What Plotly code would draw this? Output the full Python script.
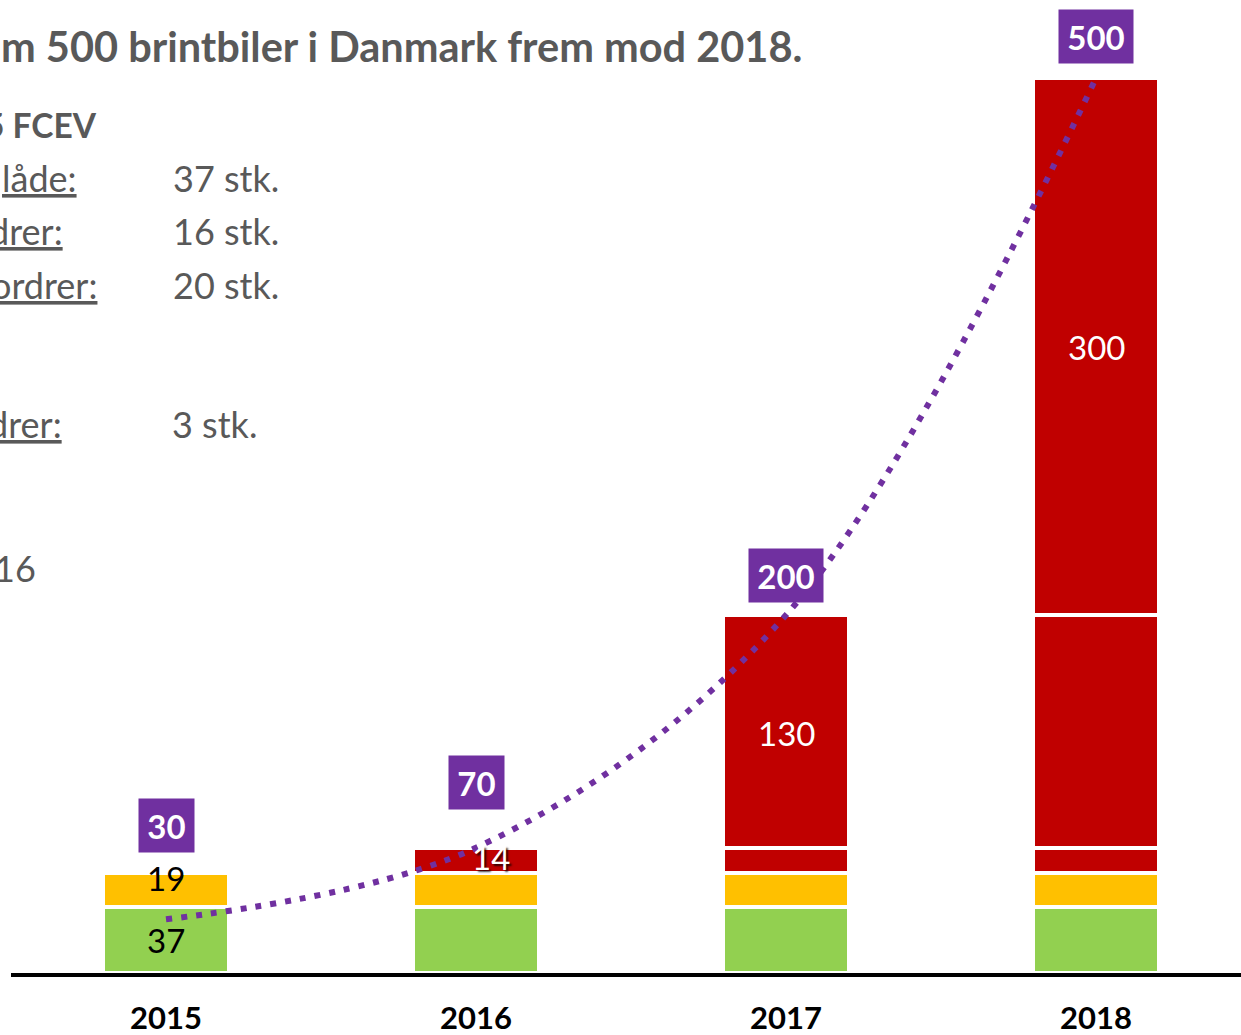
import plotly.graph_objects as go

# ---------------- data ----------------
years = ["2015", "2016", "2017", "2018"]
green_vals = [37, 37, 37, 37]
yellow_vals = [19, 19, 19, 19]
red_small_vals = [None, 14, 14, 14]
red_mid_vals = [None, None, 130, 130]
red_top_vals = [None, None, None, 300]
target_vals = [30, 70, 200, 500]

# segment labels: (year index, segment name, label)
seg_labels = [(0, "green", "37"), (0, "yellow", "19"), (1, "red_small", "14"),
              (2, "red_mid", "130"), (3, "red_top", "300")]

title_text = "m 500 brintbiler i Danmark frem mod 2018."
left_labels = ["5 FCEV", "låde:", "drer:", "ordrer:", "drer:", "16"]
left_values = ["37 stk.", "16 stk.", "20 stk.", "3 stk."]

# ---------------- style / layout ----------------
W, H = 1241, 1035
ML, MR, MT, MB = 11, 0, 0, 62
PX_PER_UNIT = 1.79
plot_w = W - ML - MR
plot_h = H - MT - MB
GREEN, YELLOW, RED, PURPLE, GREY = "#92D050", "#FFC000", "#C00000", "#7030A0", "#595959"
FONT = "Lato"

def px2paper(px, py):
    return (px - ML) / plot_w, (H - MB - py) / plot_h

fig = go.Figure()
series = [("green", green_vals, GREEN), ("yellow", yellow_vals, YELLOW),
          ("red_small", red_small_vals, RED), ("red_mid", red_mid_vals, RED),
          ("red_top", red_top_vals, RED)]
for name, vals, col in series:
    fig.add_trace(go.Bar(x=years, y=vals, name=name,
                         marker=dict(color=col, line=dict(color="white", width=4)),
                         width=0.405, hoverinfo="skip"))

fig.add_trace(go.Scatter(x=years, y=target_vals, mode="lines",
                         line=dict(color=PURPLE, width=6, dash="6px,9px", shape="spline", smoothing=1.0),
                         hoverinfo="skip"))

annotations = []

# segment labels
cum = {}
for i in range(len(years)):
    base = 0
    for name, vals, col in series:
        v = vals[i] or 0
        cum[(i, name)] = (base, base + v)
        base += v
seg_shift = {(0, "green"): (0, 0), (0, "yellow"): (0, 12), (1, "red_small"): (15, 3),
             (2, "red_mid"): (0, -2), (3, "red_top"): (0, 0)}
for i, name, lab in seg_labels:
    lo, hi = cum[(i, name)]
    dark = name in ("green", "yellow")
    xs, ys = seg_shift[(i, name)]
    font = dict(family=FONT, size=33, color="black" if dark else "white")
    if name == "red_small":
        font["shadow"] = "2px 2px 2px rgba(0,0,0,0.75)"
    annotations.append(dict(x=i, y=(lo + hi) / 2, text=lab, showarrow=False, xshift=xs, yshift=ys,
                            font=font, xanchor="center", yanchor="middle"))

# purple target boxes above stacks
totals = [sum((s[1][i] or 0) for s in series) for i in range(len(years))]
box_shift = [47, 65, 40, 42]
for i, t in enumerate(target_vals):
    annotations.append(dict(x=i, y=totals[i], yshift=box_shift[i], text="<b>%d</b>" % t, showarrow=False,
                            bgcolor=PURPLE, font=dict(family=FONT, size=33, color="white"),
                            width=55 if t < 100 else 74, height=53, borderpad=0,
                            xanchor="center", yanchor="middle"))

# title
tx, ty = px2paper(804, 46)
annotations.append(dict(xref="paper", yref="paper", x=tx, y=ty, text="<b>" + title_text + "</b>", showarrow=False,
                        xanchor="right", yanchor="middle", font=dict(family=FONT, size=41.5, color=GREY)))

# left text block
left_pos = [(99, 125), (79, 178), (65, 231), (99, 285), (64, 424), (38, 568)]
for k, (lab, (px, py)) in enumerate(zip(left_labels, left_pos)):
    ax, ay = px2paper(px, py)
    f = dict(family=FONT, size=36, color=GREY)
    txt = lab
    if k == 0:
        txt = "<b>" + lab + "</b>"
        f["size"] = 33.5
    elif k in (1, 2, 3, 4):
        f["lineposition"] = "under"
    annotations.append(dict(xref="paper", yref="paper", x=ax, y=ay, text=txt, showarrow=False,
                            xanchor="right", yanchor="middle", font=f))
val_pos = [(171, 178), (171, 231), (171, 285), (170, 424)]
for lab, (px, py) in zip(left_values, val_pos):
    ax, ay = px2paper(px, py)
    annotations.append(dict(xref="paper", yref="paper", x=ax, y=ay, text=lab, showarrow=False,
                            xanchor="left", yanchor="middle", font=dict(family=FONT, size=36, color=GREY)))

fig.update_layout(
    width=W, height=H, margin=dict(l=ML, r=MR, t=MT, b=MB, autoexpand=False),
    barmode="stack", showlegend=False,
    paper_bgcolor="white", plot_bgcolor="white",
    annotations=annotations,
    xaxis=dict(type="category", range=[-0.5, -0.5 + plot_w / 310.0], showline=True, linecolor="black",
               linewidth=4, automargin=False,
               showgrid=False, zeroline=False, ticks="", ticklabelstandoff=15,
               tickfont=dict(family=FONT, size=31, color="black", weight="bold")),
    yaxis=dict(range=[0, plot_h / PX_PER_UNIT], visible=False, showgrid=False, zeroline=False,
               automargin=False),
)

fig.write_html("out.html", config={"displayModeBar": False, "staticPlot": True},
               post_script="document.body.style.margin='0';")
